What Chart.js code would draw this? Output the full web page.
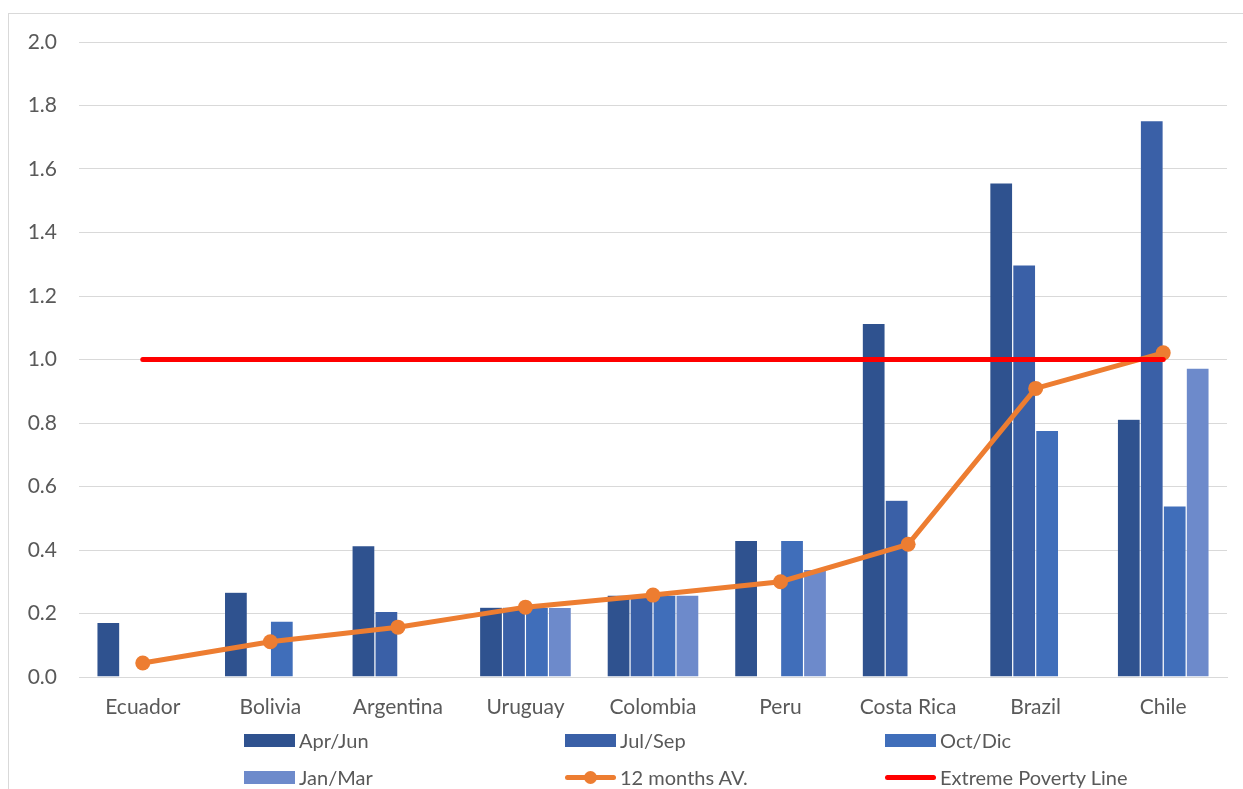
<!DOCTYPE html>
<html>
<head>
<meta charset="utf-8">
<script src="https://cdn.jsdelivr.net/npm/chart.js@4/dist/chart.umd.min.js"></script>
<style>
  html, body { margin: 0; padding: 0; background: #fff; }
  #wrap { position: relative; width: 1243px; height: 789px; overflow: hidden; }
  #frame { position: absolute; left: 8px; top: 13px; width: 1240px; height: 800px;
           border-left: 1px solid #d9d9d9; border-top: 1px solid #d9d9d9; }
  canvas { position: absolute; left: 0; top: 0; }
  #legend { position: absolute; left: 0; top: 0; width: 1243px; height: 789px; pointer-events: none;
            font-family: Lato, "Open Sans", sans-serif; font-size: 20px; color: #595959; }
  .item { position: absolute; display: flex; align-items: center; height: 22px; }
  .sw { width: 51px; height: 13px; margin-right: 4px; position: relative; }
  .ln { position: absolute; left: 0; right: 0; top: 50%; }
  .dot { position: absolute; left: 50%; top: 50%; width: 13px; height: 13px; margin: -6.5px 0 0 -6.5px; border-radius: 50%; }
</style>
</head>
<body>
<div id="wrap">
  <div id="frame"></div>
  <canvas id="c" width="1243" height="789"></canvas>
  <div id="legend"></div>
</div>
<script>
// Countries on the x axis
const countries = ['Ecuador', 'Bolivia', 'Argentina', 'Uruguay', 'Colombia', 'Peru', 'Costa Rica', 'Brazil', 'Chile'];

// Quarterly values (null where a quarter has no figure)
const aprJun = [0.172, 0.267, 0.414, 0.220, 0.258, 0.430, 1.114, 1.556, 0.812];
const julSep = [null, null, 0.207, 0.220, 0.258, null, 0.557, 1.298, 1.752];
const octDic = [null, 0.176, null, 0.220, 0.258, 0.430, null, 0.777, 0.539];
const janMar = [null, null, null, 0.219, 0.258, 0.339, null, null, 0.973];

// Twelve-month average per country
const avg12 = [0.044, 0.111, 0.157, 0.220, 0.258, 0.300, 0.418, 0.909, 1.021];

// Extreme poverty line reference level
const povertyLine = [1.0, 1.0, 1.0, 1.0, 1.0, 1.0, 1.0, 1.0, 1.0];

// Y axis tick values
const yTicks = [0, 0.2, 0.4, 0.6, 0.8, 1.0, 1.2, 1.4, 1.6, 1.8, 2.0];

const FONT = 'Lato, "Open Sans", sans-serif';
const barEdge = 'rgba(255,255,255,0.25)';

const datasets = [
  { type: 'bar', label: 'Apr/Jun', data: aprJun, backgroundColor: '#2F528F', borderColor: barEdge, borderWidth: 0.6, order: 3 },
  { type: 'bar', label: 'Jul/Sep', data: julSep, backgroundColor: '#3A60A7', borderColor: barEdge, borderWidth: 0.6, order: 3 },
  { type: 'bar', label: 'Oct/Dic', data: octDic, backgroundColor: '#406EBA', borderColor: barEdge, borderWidth: 0.6, order: 3 },
  { type: 'bar', label: 'Jan/Mar', data: janMar, backgroundColor: '#6D8ACB', borderColor: barEdge, borderWidth: 0.6, order: 3 },
  { type: 'line', label: '12 months AV.', data: avg12, borderColor: '#ED7D31', backgroundColor: '#ED7D31',
    borderWidth: 5, pointRadius: 7.5, pointHoverRadius: 7.5, pointBackgroundColor: '#ED7D31', pointBorderWidth: 0,
    tension: 0, order: 2 },
  { type: 'line', label: 'Extreme Poverty Line', data: povertyLine, borderColor: '#FF0000', backgroundColor: '#FF0000',
    borderWidth: 5, pointRadius: 0, borderCapStyle: 'round', tension: 0, order: 1 }
];

const chart = new Chart(document.getElementById('c'), {
  data: { labels: countries, datasets },
  options: {
    responsive: false,
    animation: false,
    layout: { padding: { left: 0, right: 16, top: 42, bottom: 62 } },
    datasets: { bar: { categoryPercentage: 0.72, barPercentage: 1.0 } },
    plugins: { legend: { display: false }, tooltip: { enabled: false } },
    scales: {
      x: {
        grid: { display: false, drawTicks: false },
        border: { display: true, color: '#d9d9d9', width: 1 },
        ticks: { color: '#595959', font: { family: FONT, size: 21 }, padding: 18, maxRotation: 0 },
        afterFit(s) { s.height = 50; }
      },
      y: {
        min: 0, max: 2,
        afterBuildTicks(s) { s.ticks = yTicks.map(v => ({ value: v })); },
        grid: { color: '#d9d9d9', lineWidth: 1, drawTicks: false },
        border: { display: false },
        ticks: { color: '#595959', font: { family: FONT, size: 21 }, padding: 22,
                 callback: v => Number(v).toFixed(1) },
        afterFit(s) { s.width = 79; }
      }
    }
  }
});

// Legend laid out in a 3-column grid under the plot
const legend = document.getElementById('legend');
const colX = [244, 565, 885];
const rowY = [729, 766];
chart.data.datasets.forEach((ds, i) => {
  const item = document.createElement('div');
  item.className = 'item';
  item.style.left = colX[i % 3] + 'px';
  item.style.top = rowY[Math.floor(i / 3)] + 'px';
  const sw = document.createElement('div');
  sw.className = 'sw';
  if (ds.type === 'bar') {
    sw.style.background = ds.backgroundColor;
  } else {
    const ln = document.createElement('div');
    ln.className = 'ln';
    ln.style.height = ds.borderWidth + 'px';
    ln.style.marginTop = (-ds.borderWidth / 2) + 'px';
    ln.style.background = ds.borderColor;
    ln.style.borderRadius = ds.borderWidth + 'px';
    sw.appendChild(ln);
    if (ds.pointRadius > 0) {
      const dot = document.createElement('div');
      dot.className = 'dot';
      dot.style.background = ds.borderColor;
      sw.appendChild(dot);
    }
  }
  const tx = document.createElement('span');
  tx.textContent = ds.label;
  item.appendChild(sw);
  item.appendChild(tx);
  legend.appendChild(item);
});
</script>
</body>
</html>
